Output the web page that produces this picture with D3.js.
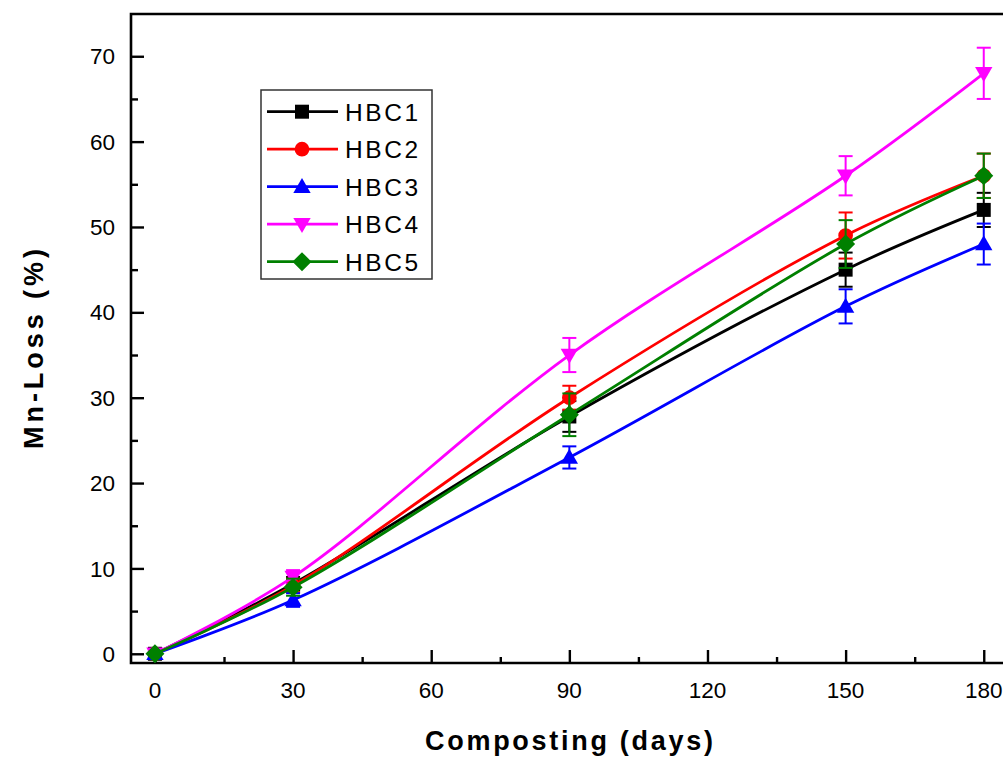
<!DOCTYPE html>
<html>
<head>
<meta charset="utf-8">
<script src="https://cdn.jsdelivr.net/npm/d3@7/dist/d3.min.js"></script>
<style>
  html, body { margin: 0; padding: 0; background: #fff; }
  svg { display: block; font-family: Arial, "Liberation Sans", sans-serif; }
</style>
</head>
<body>
<svg id="chart" width="1003" height="758"></svg>
<script>
// Composting time (days)
const days = [0, 30, 90, 150, 180];
const seriesNames = ["HBC1", "HBC2", "HBC3", "HBC4", "HBC5"];
const seriesColors = ["#000000", "#ff0000", "#0000ff", "#ff00ff", "#008000"];
const seriesSymbols = ["square", "circle", "triangle", "triangleDown", "diamond"];

// Mn-Loss (%) per sample
const hbc1 = [0, 8.2, 27.8, 45.0, 52.0];
const hbc2 = [0, 8.0, 30.0, 49.0, 56.0];
const hbc3 = [0, 6.3, 23.0, 40.7, 48.0];
const hbc4 = [0, 9.0, 35.0, 56.0, 68.0];
const hbc5 = [0, 7.8, 28.0, 48.0, 56.0];

// standard deviations
const err1 = [0, 0.8, 1.8, 2.0, 2.0];
const err2 = [0, 0.8, 1.4, 2.7, 2.6];
const err3 = [0, 0.8, 1.3, 2.0, 2.4];
const err4 = [0, 0.8, 2.0, 2.3, 3.0];
const err5 = [0, 1.0, 2.5, 2.8, 2.6];

const xTicks = [0, 30, 60, 90, 120, 150, 180];
const yTicks = [0, 10, 20, 30, 40, 50, 60, 70];
const xTitle = "Composting (days)";
const yTitle = "Mn-Loss (%)";

const values = [hbc1, hbc2, hbc3, hbc4, hbc5];
const errors = [err1, err2, err3, err4, err5];

const svg = d3.select("#chart");
const pLeft = 131, pTop = 14, pRight = 1010, pBottom = 663;

const x = d3.scaleLinear().domain([-5.2, 185.7]).range([pLeft, pRight]);
const y = d3.scaleLinear().domain([-1.08, 74.95]).range([pBottom, pTop]);

// frame
svg.append("path")
  .attr("d", `M${pRight},${pTop}H${pLeft}V${pBottom}H${pRight}`)
  .attr("fill", "none").attr("stroke", "#000").attr("stroke-width", 2.6);

// y axis: ticks point inward
const yAxis = d3.axisRight(y).tickValues(yTicks).tickSize(13).tickFormat("");
const gy = svg.append("g").attr("transform", `translate(${pLeft},0)`).call(yAxis);
gy.select(".domain").remove();
gy.selectAll("line").attr("stroke-width", 2.4);
const yMinor = d3.axisRight(y).tickValues(d3.range(5, 75, 10)).tickSize(7).tickFormat("");
const gym = svg.append("g").attr("transform", `translate(${pLeft},0)`).call(yMinor);
gym.select(".domain").remove();
gym.selectAll("line").attr("stroke-width", 2.4);
svg.append("g").selectAll("text").data(yTicks).join("text")
  .attr("x", 115).attr("y", d => y(d)).attr("dy", "0.36em")
  .attr("text-anchor", "end").attr("font-size", 22.5).text(d => d);

// x axis: ticks point inward
const xAxis = d3.axisTop(x).tickValues(xTicks).tickSize(13).tickFormat("");
const gx = svg.append("g").attr("transform", `translate(0,${pBottom})`).call(xAxis);
gx.select(".domain").remove();
gx.selectAll("line").attr("stroke-width", 2.4);
const xMinor = d3.axisTop(x).tickValues(d3.range(15, 180, 30)).tickSize(6).tickFormat("");
const gxm = svg.append("g").attr("transform", `translate(0,${pBottom})`).call(xMinor);
gxm.select(".domain").remove();
gxm.selectAll("line").attr("stroke-width", 2.4);
svg.append("g").selectAll("text").data(xTicks).join("text")
  .attr("x", d => x(d)).attr("y", 698)
  .attr("text-anchor", "middle").attr("font-size", 22.5).text(d => d);

// axis titles
svg.append("text").attr("x", 569).attr("y", 750)
  .attr("text-anchor", "middle").attr("font-size", 27).attr("font-weight", "bold")
  .attr("textLength", 288).attr("lengthAdjust", "spacing").text(xTitle);
svg.append("text")
  .attr("transform", "translate(43,349) rotate(-90)")
  .attr("text-anchor", "middle").attr("font-size", 27).attr("font-weight", "bold")
  .attr("textLength", 200).attr("lengthAdjust", "spacing").text(yTitle);

// marker shapes
const symbolPath = (kind, size) => {
  const s = size;
  switch (kind) {
    case "square": return `M${-s/2},${-s/2}h${s}v${s}h${-s}Z`;
    case "circle": return d3.symbol(d3.symbolCircle, Math.PI * (s/2) * (s/2) * 1.1)();
    case "triangle": return `M0,${-s*0.62}L${s*0.62},${s*0.45}L${-s*0.62},${s*0.45}Z`;
    case "triangleDown": return `M0,${s*0.62}L${s*0.62},${-s*0.45}L${-s*0.62},${-s*0.45}Z`;
    case "diamond": return `M0,${-s*0.68}L${s*0.68},0L0,${s*0.68}L${-s*0.68},0Z`;
  }
};

const line = d3.line()
  .x(d => x(d.day)).y(d => y(d.v))
  .curve(d3.curveCatmullRom.alpha(0.5));

const plot = svg.append("g");
seriesNames.forEach((name, i) => {
  const pts = days.map((d, j) => ({ day: d, v: values[i][j], e: errors[i][j] }));
  const g = plot.append("g").attr("class", "series");
  // error bars
  const eb = g.selectAll("g.err").data(pts.filter(p => p.e > 0)).join("g").attr("class", "err")
    .attr("stroke", seriesColors[i]).attr("stroke-width", 2);
  eb.append("line").attr("x1", p => x(p.day)).attr("x2", p => x(p.day))
    .attr("y1", p => y(p.v + p.e)).attr("y2", p => y(p.v - p.e));
  eb.append("line").attr("x1", p => x(p.day) - 7).attr("x2", p => x(p.day) + 7)
    .attr("y1", p => y(p.v + p.e)).attr("y2", p => y(p.v + p.e));
  eb.append("line").attr("x1", p => x(p.day) - 7).attr("x2", p => x(p.day) + 7)
    .attr("y1", p => y(p.v - p.e)).attr("y2", p => y(p.v - p.e));
  // curve
  g.append("path").datum(pts).attr("d", line)
    .attr("fill", "none").attr("stroke", seriesColors[i]).attr("stroke-width", 2.8);
  // markers
  g.selectAll("path.mk").data(pts).join("path").attr("class", "mk")
    .attr("transform", p => `translate(${x(p.day)},${y(p.v)})`)
    .attr("d", symbolPath(seriesSymbols[i], 14))
    .attr("fill", seriesColors[i]);
});

// legend
const legend = svg.append("g");
legend.append("rect").attr("x", 261).attr("y", 90).attr("width", 171).attr("height", 189)
  .attr("fill", "#fff").attr("stroke", "#333").attr("stroke-width", 1.5);
seriesNames.forEach((name, i) => {
  const cy = 111.7 + i * 37.5;
  legend.append("line").attr("x1", 267).attr("x2", 338).attr("y1", cy).attr("y2", cy)
    .attr("stroke", seriesColors[i]).attr("stroke-width", 2.8);
  legend.append("path").attr("transform", `translate(302,${cy})`)
    .attr("d", symbolPath(seriesSymbols[i], 14)).attr("fill", seriesColors[i]);
  legend.append("text").attr("x", 345).attr("y", cy).attr("dy", "0.36em")
    .attr("font-size", 24.5).attr("letter-spacing", 2.6).text(name);
});
</script>
</body>
</html>
